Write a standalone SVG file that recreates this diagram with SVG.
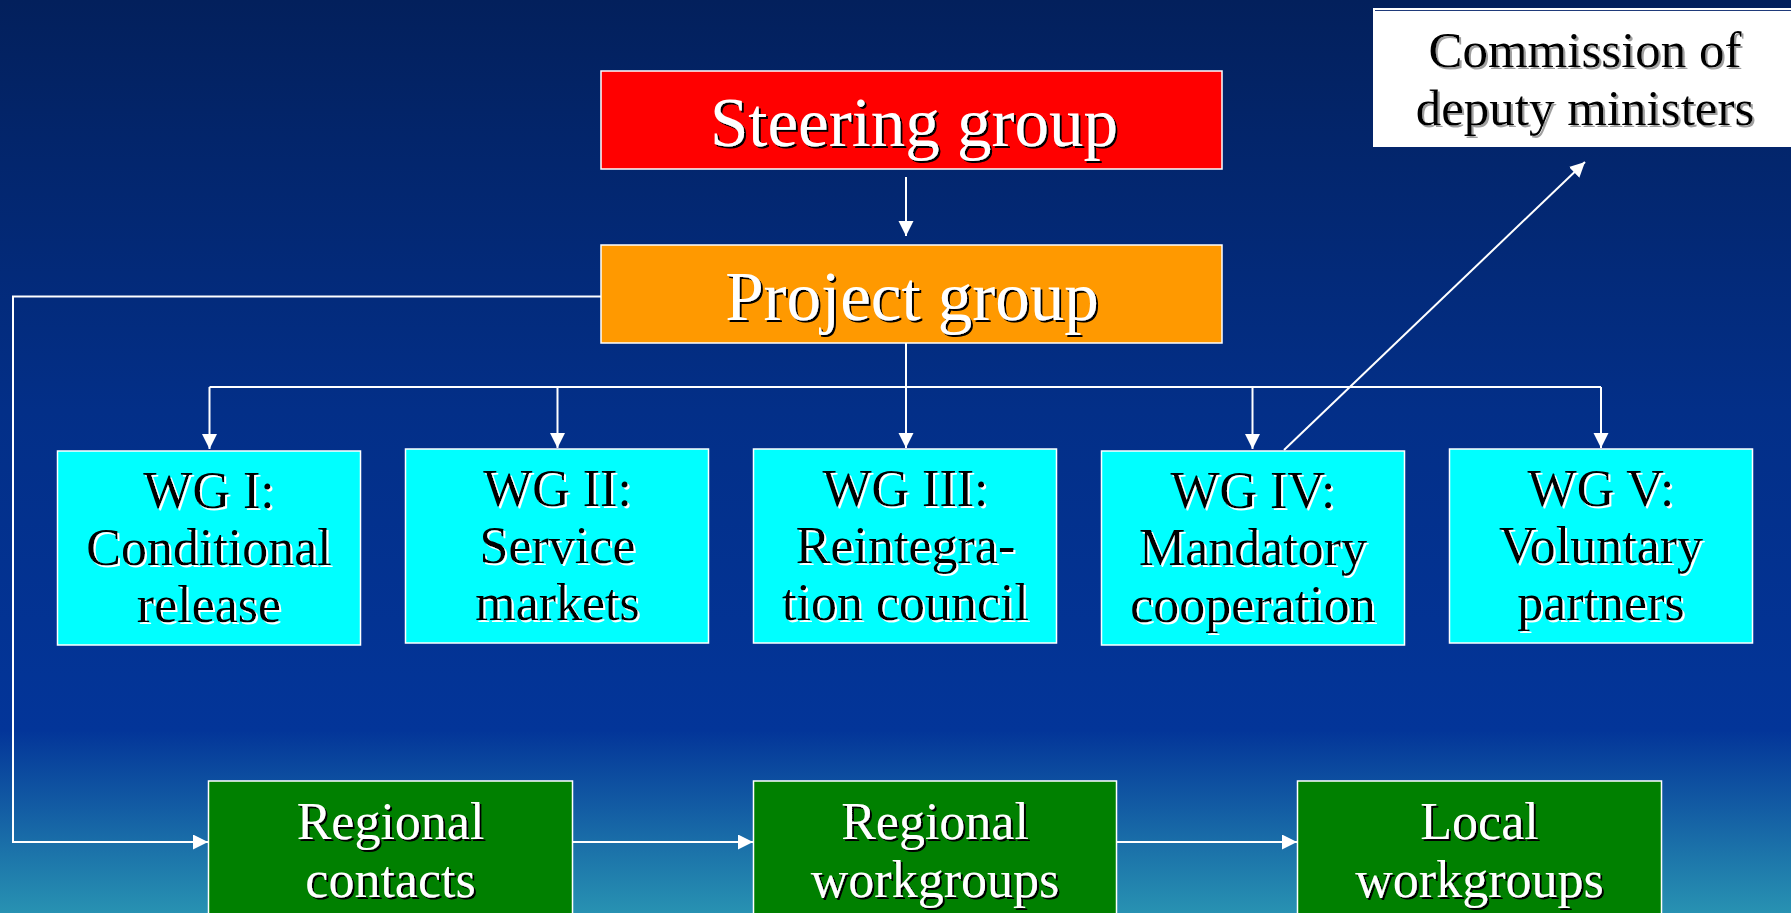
<svg xmlns="http://www.w3.org/2000/svg" width="1791" height="913" viewBox="0 0 1791 913">
<defs>
<linearGradient id="bg" x1="0" y1="0" x2="0" y2="1">
<stop offset="0" stop-color="#03205c"/>
<stop offset="0.45" stop-color="#032f88"/>
<stop offset="0.8" stop-color="#033599"/>
<stop offset="1" stop-color="#2892b2"/>
</linearGradient>
<marker id="ah" markerUnits="userSpaceOnUse" markerWidth="16" markerHeight="16" refX="15" refY="7.5" orient="auto">
<path d="M0,0 L15,7.5 L0,15 z" fill="#ffffff"/>
</marker>
<filter id="shDark" x="-5%" y="-5%" width="110%" height="115%">
<feOffset in="SourceAlpha" dx="2.2" dy="2.2" result="o"/>
<feFlood flood-color="#000000"/>
<feComposite in2="o" operator="in" result="s"/>
<feMerge><feMergeNode in="s"/><feMergeNode in="SourceGraphic"/></feMerge>
</filter>
<filter id="shLight" x="-5%" y="-5%" width="110%" height="115%">
<feOffset in="SourceAlpha" dx="2" dy="2" result="o"/>
<feFlood flood-color="#ffffff"/>
<feComposite in2="o" operator="in" result="s"/>
<feMerge><feMergeNode in="s"/><feMergeNode in="SourceGraphic"/></feMerge>
</filter>
<filter id="shGrey" x="-5%" y="-5%" width="110%" height="115%">
<feOffset in="SourceAlpha" dx="2" dy="2" result="o"/>
<feFlood flood-color="#a0a0a0"/>
<feComposite in2="o" operator="in" result="s"/>
<feMerge><feMergeNode in="s"/><feMergeNode in="SourceGraphic"/></feMerge>
</filter>
</defs>
<style>
text{font-family:"Liberation Serif","Times New Roman",serif;text-anchor:middle}
.box{stroke:#ffffff;stroke-width:1.5}
.big{font-size:69px;fill:#ffffff;filter:url(#shDark)}
.wg{font-size:52px;fill:#000000;filter:url(#shLight)}
.gr{font-size:52px;fill:#ffffff;filter:url(#shDark)}
.cm{font-size:51px;fill:#000000;filter:url(#shGrey)}
.con{fill:none;stroke:#ffffff;stroke-width:2}
.arr{marker-end:url(#ah)}
</style>
<rect x="0" y="0" width="1791" height="913" fill="url(#bg)"/>

<g id="connectors">
<path class="con arr" d="M906,177 L906,236"/>
<path class="con" d="M906,343 L906,387"/>
<path class="con" d="M209.5,387 L1601,387"/>
<path class="con arr" d="M209.5,387 L209.5,449"/>
<path class="con arr" d="M557.5,387 L557.5,448"/>
<path class="con arr" d="M906,387 L906,448"/>
<path class="con arr" d="M1252.5,387 L1252.5,449"/>
<path class="con arr" d="M1601,387 L1601,448"/>
<path class="con arr" d="M1284,450 L1585,162"/>
<path class="con arr" d="M601,296.5 L13,296.5 L13,842 L208,842"/>
<path class="con arr" d="M572,842 L753,842"/>
<path class="con arr" d="M1116,842 L1297,842"/>
</g>

<g id="steering">
<rect class="box" x="601" y="71" width="621" height="98" fill="#ff0000"/>
<text class="big" x="914" y="146">Steering group</text>
</g>

<g id="project">
<rect class="box" x="601" y="245" width="621" height="98" fill="#ff9900"/>
<text class="big" x="912" y="320">Project group</text>
</g>

<g id="commission">
<rect x="1373" y="8" width="420" height="139" fill="#ffffff"/>
<line x1="1375" y1="10.5" x2="1791" y2="10.5" stroke="#1f3a7a" stroke-width="1.2"/>
<text class="cm" x="1585" y="66.5">Commission of</text>
<text class="cm" x="1585" y="125">deputy ministers</text>
</g>

<g id="wg1">
<rect class="box" x="57.5" y="451" width="303" height="194" fill="#00ffff"/>
<text class="wg" x="209" y="507.5">WG I:</text>
<text class="wg" x="209" y="565">Conditional</text>
<text class="wg" x="209" y="622">release</text>
</g>

<g id="wg2">
<rect class="box" x="405.5" y="449" width="303" height="194" fill="#00ffff"/>
<text class="wg" x="557.5" y="505.5">WG II:</text>
<text class="wg" x="557.5" y="563">Service</text>
<text class="wg" x="557.5" y="620">markets</text>
</g>

<g id="wg3">
<rect class="box" x="753.5" y="449" width="303" height="194" fill="#00ffff"/>
<text class="wg" x="905.5" y="505.5">WG III:</text>
<text class="wg" x="905.5" y="563">Reintegra-</text>
<text class="wg" x="905.5" y="620">tion council</text>
</g>

<g id="wg4">
<rect class="box" x="1101.5" y="451" width="303" height="194" fill="#00ffff"/>
<text class="wg" x="1253" y="507.5">WG IV:</text>
<text class="wg" x="1253" y="565">Mandatory</text>
<text class="wg" x="1253" y="622">cooperation</text>
</g>

<g id="wg5">
<rect class="box" x="1449.5" y="449" width="303" height="194" fill="#00ffff"/>
<text class="wg" x="1601" y="505.5">WG V:</text>
<text class="wg" x="1601" y="563">Voluntary</text>
<text class="wg" x="1601" y="620">partners</text>
</g>

<g id="regional-contacts">
<rect class="box" x="208.5" y="781" width="364" height="150" fill="#008000"/>
<text class="gr" x="390.5" y="839">Regional</text>
<text class="gr" x="390.5" y="897">contacts</text>
</g>

<g id="regional-workgroups">
<rect class="box" x="753.5" y="781" width="363" height="150" fill="#008000"/>
<text class="gr" x="935" y="839">Regional</text>
<text class="gr" x="935" y="897">workgroups</text>
</g>

<g id="local-workgroups">
<rect class="box" x="1297.5" y="781" width="364" height="150" fill="#008000"/>
<text class="gr" x="1479.5" y="839">Local</text>
<text class="gr" x="1479.5" y="897">workgroups</text>
</g>
</svg>
